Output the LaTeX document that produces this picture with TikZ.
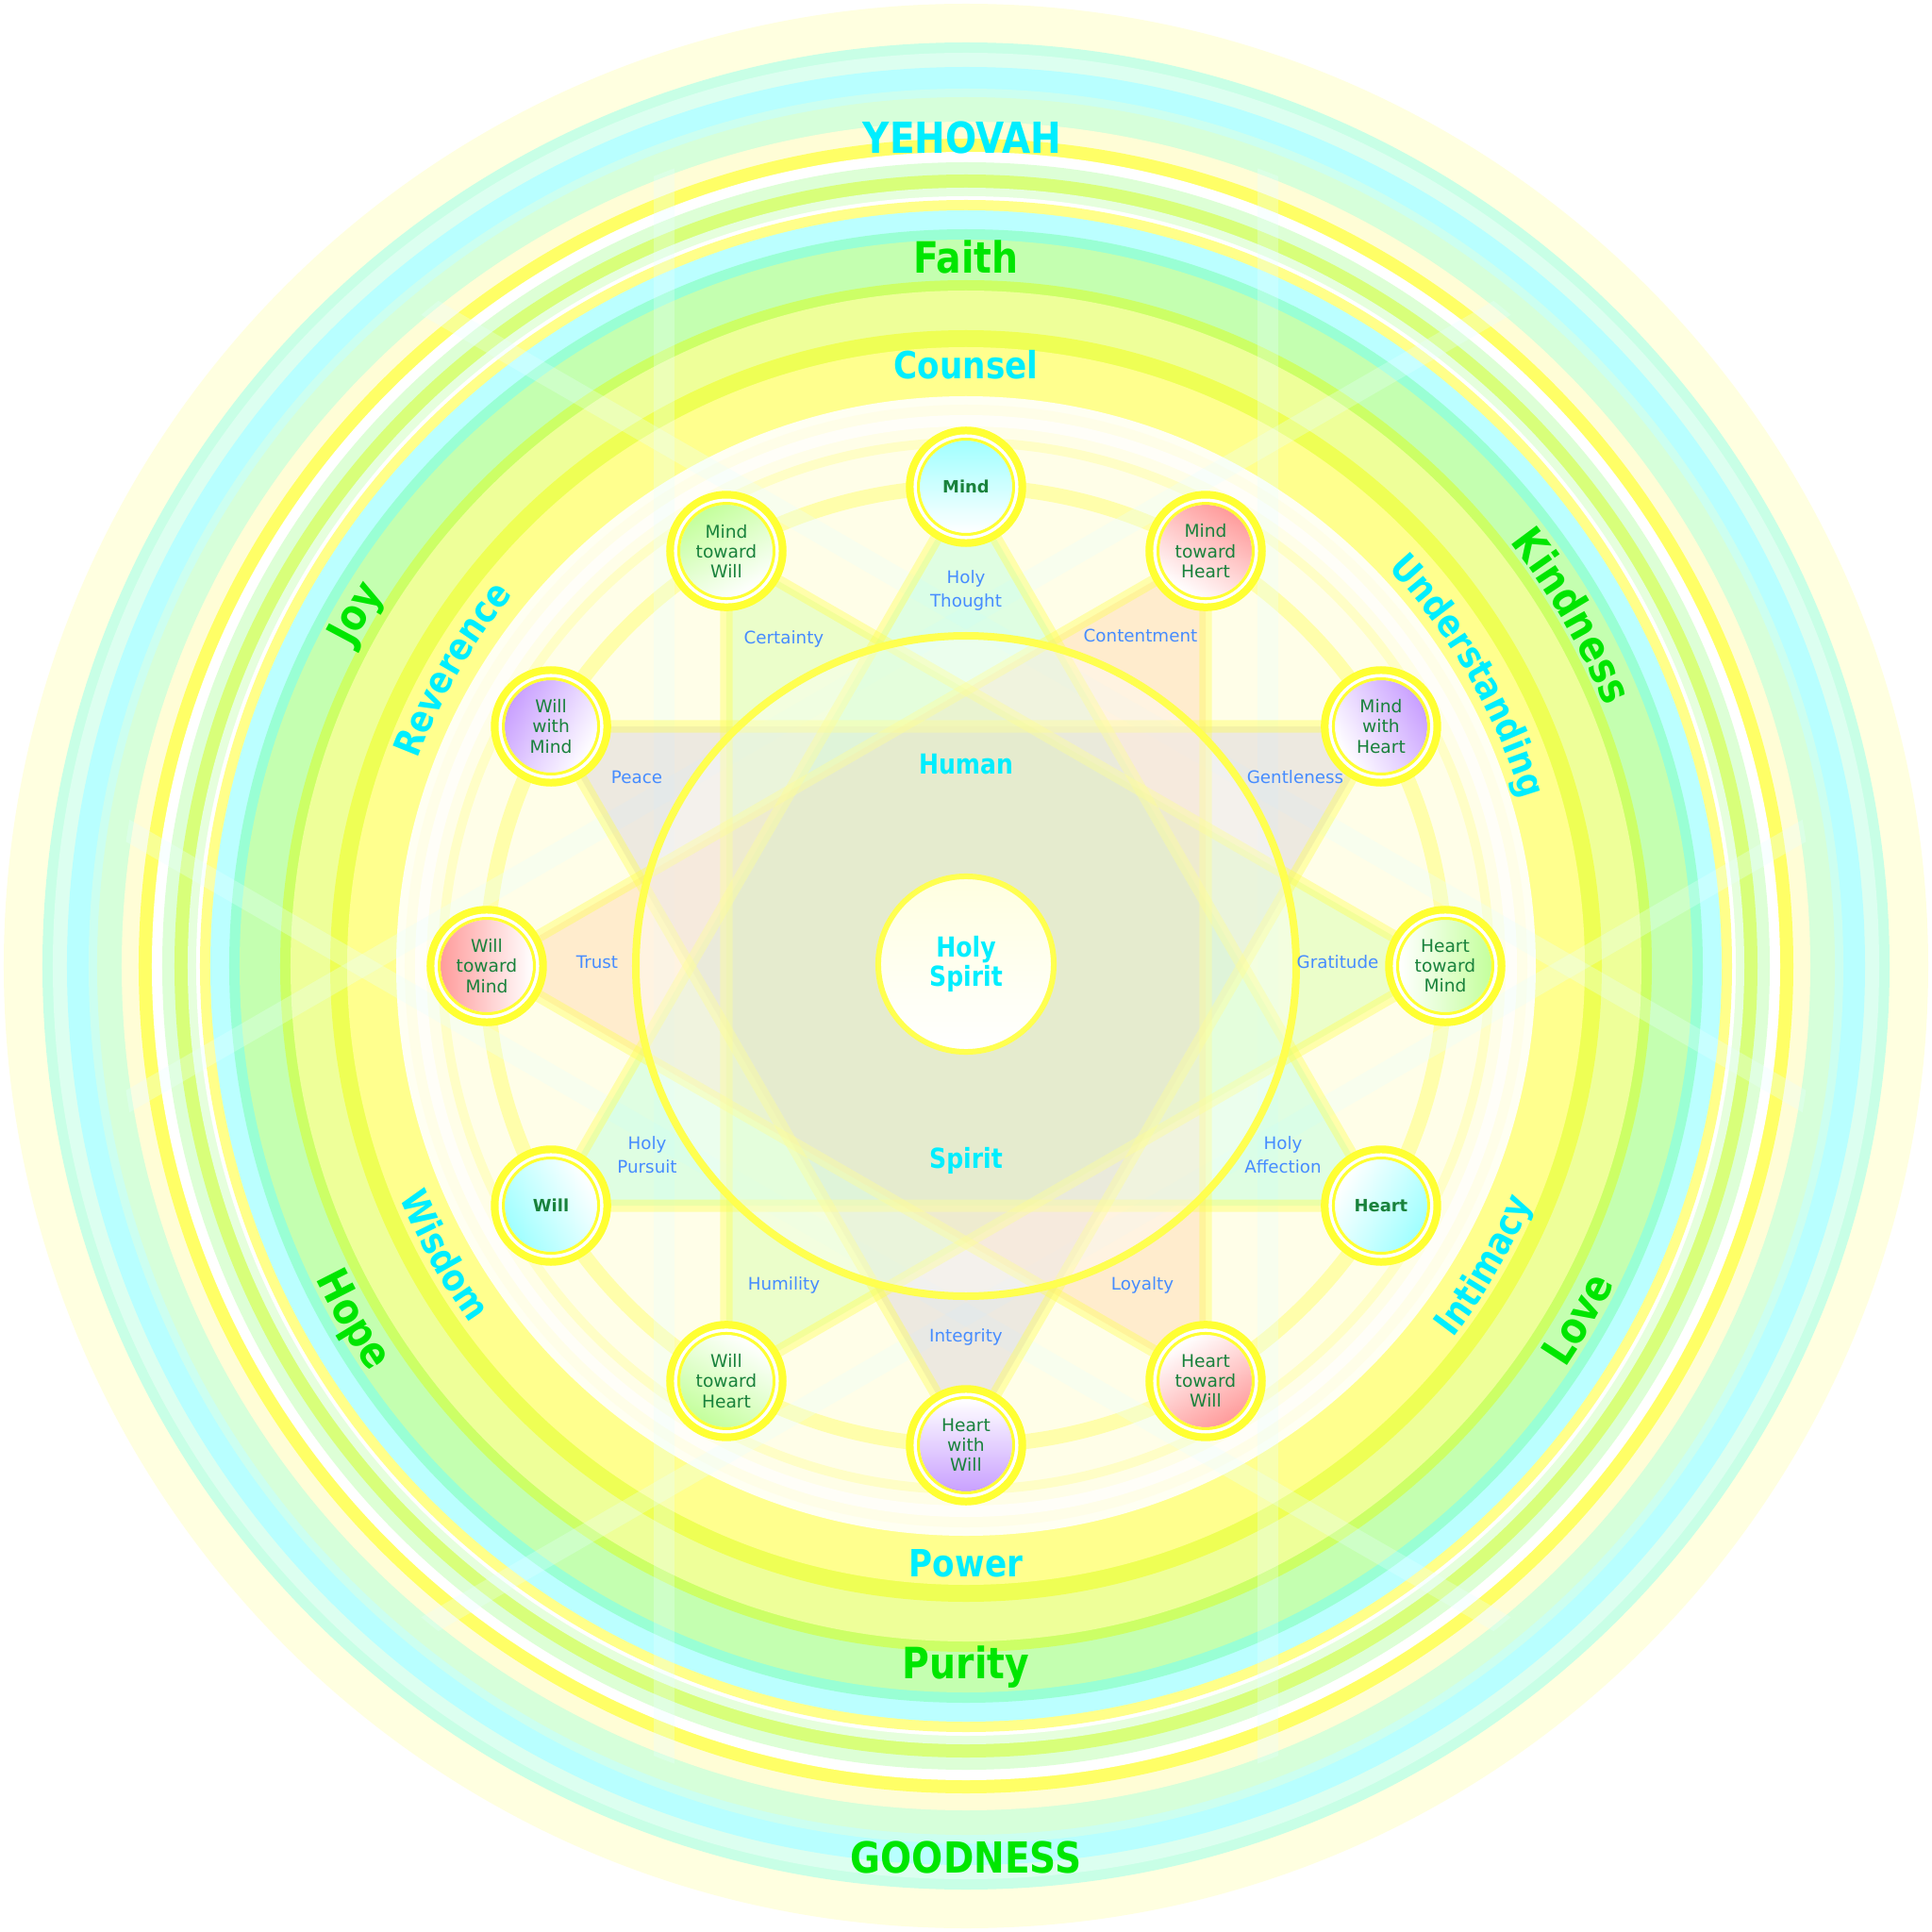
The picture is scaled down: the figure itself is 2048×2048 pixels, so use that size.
\documentclass[tikz,border=0pt]{standalone}
\usepackage{fontspec}
\setmainfont{DejaVu Sans}
\newfontfamily\labf[FakeStretch=0.86]{DejaVu Sans Bold}
\usetikzlibrary{decorations.text}
\definecolor{ra}{HTML}{FFFFE0}
\definecolor{rb}{HTML}{C8FFE6}
\definecolor{rc}{HTML}{DCFFF0}
\definecolor{rd}{HTML}{B8FFFF}
\definecolor{re}{HTML}{CCFFF0}
\definecolor{rf}{HTML}{D6FFDA}
\definecolor{rg}{HTML}{FFFDD6}
\definecolor{rh}{HTML}{FFFF66}
\definecolor{ri}{HTML}{FFFFFF}
\definecolor{rj}{HTML}{DDFFD6}
\definecolor{rk}{HTML}{D8FF7A}
\definecolor{rl}{HTML}{E6FFDD}
\definecolor{rm}{HTML}{FFFFFF}
\definecolor{rn}{HTML}{FFFF8A}
\definecolor{ro}{HTML}{BBFFFF}
\definecolor{rp}{HTML}{99FFD4}
\definecolor{rq}{HTML}{C4FFB0}
\definecolor{rr}{HTML}{CCFF66}
\definecolor{rs}{HTML}{EEFF99}
\definecolor{rt}{HTML}{EEFF55}
\definecolor{ru}{HTML}{FFFF8E}
\definecolor{rv}{HTML}{FFFFF2}
\definecolor{rw}{HTML}{FFFEE8}
\definecolor{cyT}{RGB}{0,238,255}
\definecolor{grT}{RGB}{0,230,0}
\definecolor{ndT}{RGB}{25,130,60}
\definecolor{tipT}{RGB}{70,140,255}
\definecolor{nodeY}{HTML}{FFFF33}
\definecolor{edgeY}{HTML}{FFFF50}
\definecolor{faintC}{HTML}{E8FFFF}
\definecolor{triA}{HTML}{70FFD0}
\definecolor{triB}{HTML}{B0A0C8}
\definecolor{triC}{HTML}{A8FF60}
\definecolor{triD}{HTML}{FFB070}
\definecolor{shCy}{HTML}{A0FFFF}
\definecolor{shPu}{HTML}{C9A0FF}
\definecolor{shRe}{HTML}{FF9C9C}
\definecolor{shGr}{HTML}{C4FF9C}
\pgfdeclarelayer{bg}
\pgfsetlayers{bg,main}
\begin{document}
\begin{tikzpicture}[x=0.01cm,y=0.01cm,
  nd/.style={circle, minimum size=9.8mm, inner sep=0pt, align=center, font=\fontsize{5.3}{6}\selectfont, text=ndT},
  ndb/.style={nd, font=\fontsize{5.1}{6}\selectfont\bfseries},
  tip/.style={align=center, text=tipT, font=\fontsize{5.2}{7}\selectfont},
  cyl/.style={text=cyT, font=\labf\fontsize{11.3}{12}\selectfont},
  grl/.style={text=grT, font=\labf\fontsize{13}{14}\selectfont},
  ringO/.style={draw=nodeY, line width=0.85mm},
  ringW/.style={draw=white, line width=0.35mm},
  ringI/.style={draw=nodeY, line width=0.3mm},
  edge/.style={draw=edgeY, draw opacity=0.4, line width=1.3mm, line join=round},
  faint/.style={draw=faintC, draw opacity=0.3, line width=2.2mm},
  trifill/.style={fill=#1, fill opacity=0.22},
]
\useasboundingbox (-1024,-1024) rectangle (1024,1024);
\begin{pgfonlayer}{bg}
\fill[white] (-1024,-1024) rectangle (1024,1024);
\foreach \r/\c in {1020/ra,979/rb,968/rc,953/rd,930/re,921/rf,895/rg,877/rh,863/ri,852/rj,839/rk,825/rl,816/rm,812/rn,801/ro,781/rp,770/rq,727/rr,716/rs,674/rt,656/ru,604/rv,595/rw}
  \fill[\c] (0,0) circle (\r);
\draw[white, line width=1.2mm, opacity=0.7] (0,0) circle (578);
\draw[draw=edgeY, line width=1mm, opacity=0.22] (0,0) circle (555);
\draw[draw=edgeY, line width=1.6mm, opacity=0.4] (0,0) circle (508);
\begin{scope}
\clip (0,0) circle (900);
\foreach \a in {0,60,...,300} \draw[faint, rotate=\a] (320,-1000) -- (320,1000);
\end{scope}
\end{pgfonlayer}

% nodes
\node[ndb, top color=shCy, bottom color=white, shading angle=0] (mind) at (90:508) {Mind};
\node[nd, top color=shRe, bottom color=white, shading angle=-30] (mth) at (60:508) {Mind\\toward\\Heart};
\node[nd, top color=shPu, bottom color=white, shading angle=-60] (mwh) at (30:508) {Mind\\with\\Heart};
\node[nd, top color=shGr, bottom color=white, shading angle=-90] (htm) at (0:508) {Heart\\toward\\Mind};
\node[ndb, top color=shCy, bottom color=white, shading angle=-120] (heart) at (-30:508) {Heart};
\node[nd, top color=shRe, bottom color=white, shading angle=-150] (htw) at (-60:508) {Heart\\toward\\Will};
\node[nd, top color=shPu, bottom color=white, shading angle=180] (hww) at (-90:508) {Heart\\with\\Will};
\node[nd, top color=shGr, bottom color=white, shading angle=150] (wth) at (-120:508) {Will\\toward\\Heart};
\node[ndb, top color=shCy, bottom color=white, shading angle=120] (will) at (210:508) {Will};
\node[nd, top color=shRe, bottom color=white, shading angle=90] (wtm) at (180:508) {Will\\toward\\Mind};
\node[nd, top color=shPu, bottom color=white, shading angle=60] (wwm) at (150:508) {Will\\with\\Mind};
\node[nd, top color=shGr, bottom color=white, shading angle=30] (mtw) at (120:508) {Mind\\toward\\Will};

\foreach \n in {mind,mth,mwh,htm,heart,htw,hww,wth,will,wtm,wwm,mtw}{
  \draw[ringO] (\n.center) circle (59.5);
  \draw[ringW] (\n.center) circle (53.8);
  \draw[ringI] (\n.center) circle (50.5);
}

\begin{pgfonlayer}{bg}
\fill[trifill=triA] (mind.center) -- (heart.center) -- (will.center) -- cycle;
\fill[trifill=triB] (mwh.center) -- (hww.center) -- (wwm.center) -- cycle;
\fill[trifill=triC] (mtw.center) -- (htm.center) -- (wth.center) -- cycle;
\fill[trifill=triD] (mth.center) -- (wtm.center) -- (htw.center) -- cycle;
\draw[edge] (mind.center) -- (heart.center) -- (will.center) -- cycle;
\draw[edge] (mwh.center) -- (hww.center) -- (wwm.center) -- cycle;
\draw[edge] (mtw.center) -- (htm.center) -- (wth.center) -- cycle;
\draw[edge] (mth.center) -- (wtm.center) -- (htw.center) -- cycle;
\fill[white, fill opacity=0.4] (0,0) circle (350);
\draw[draw=edgeY, line width=0.8mm] (0,0) circle (350);
\end{pgfonlayer}

\node[circle, minimum size=18.6mm, inner sep=0pt, draw=edgeY, line width=0.6mm, top color=ra, bottom color=white, align=center, text=cyT, font=\labf\fontsize{8.3}{8.6}\selectfont] (hs) at (0,2) {Holy\\Spirit};

% tip labels
\node[tip] (tHT) at (0,398) {Holy\\Thought};
\node[tip] (tCe) at (-193,347) {Certainty};
\node[tip] (tCo) at (185,350) {Contentment};
\node[tip] (tPe) at (-349,200) {Peace};
\node[tip] (tGe) at (349,200) {Gentleness};
\node[tip] (tTr) at (-391,4) {Trust};
\node[tip] (tGr) at (394,4) {Gratitude};
\node[tip] (tHP) at (-338,-200) {Holy\\Pursuit};
\node[tip] (tHA) at (336,-200) {Holy\\Affection};
\node[tip] (tHu) at (-193,-338) {Humility};
\node[tip] (tLo) at (187,-338) {Loyalty};
\node[tip] (tIn) at (0,-393) {Integrity};

\node[text=cyT, font=\labf\fontsize{8.3}{9}\selectfont] (human) at (0,214) {Human};
\node[text=cyT, font=\labf\fontsize{8.3}{9}\selectfont] (spirit) at (0,-206) {Spirit};

% straight labels
\node[text=cyT, font=\labf\fontsize{12.9}{14}\selectfont] (yeh) at (-4,878) {YEHOVAH};
\node[grl] (faith) at (0,752) {Faith};
\node[cyl] (counsel) at (0,637) {Counsel};
\node[cyl] (power) at (0,-633) {Power};
\node[grl, anchor=base] (purity) at (0,-755) {Purity};
\node[text=grT, font=\labf\fontsize{12.9}{14}\selectfont] (good) at (0,-945) {GOODNESS};

% curved labels (top: clockwise, bottom: counterclockwise)
\path[decorate, decoration={text along path, text align=center, text={|\labf\fontsize{13}{14}\selectfont\color{grT}|Joy}}] (190:733) arc[start angle=190, end angle=110, radius=733];
\path[decorate, decoration={text along path, text align=center, text={|\labf\fontsize{13}{14}\selectfont\color{grT}|Kindness}}] (70:731) arc[start angle=70, end angle=-10, radius=731];
\path[decorate, decoration={text along path, text align=center, text={|\labf\fontsize{13}{14}\selectfont\color{grT}|Hope}}] (170:765) arc[start angle=170, end angle=250, radius=765];
\path[decorate, decoration={text along path, text align=center, text={|\labf\fontsize{13}{14}\selectfont\color{grT}|Love}}] (-70:765) arc[start angle=-70, end angle=10, radius=765];
\path[decorate, decoration={text along path, text align=center, text={|\labf\fontsize{11.3}{12}\selectfont\color{cyT}|Reverence}}] (190:621) arc[start angle=190, end angle=110, radius=621];
\path[decorate, decoration={text along path, text align=center, text={|\labf\fontsize{11.3}{12}\selectfont\color{cyT}|Understanding}}] (70:615) arc[start angle=70, end angle=-10, radius=615];
\path[decorate, decoration={text along path, text align=center, text={|\labf\fontsize{11.3}{12}\selectfont\color{cyT}|Wisdom}}] (169:648) arc[start angle=169, end angle=249, radius=648];
\path[decorate, decoration={text along path, text align=center, text={|\labf\fontsize{11.3}{12}\selectfont\color{cyT}|Intimacy}}] (-70:650) arc[start angle=-70, end angle=10, radius=650];
\end{tikzpicture}
\end{document}
